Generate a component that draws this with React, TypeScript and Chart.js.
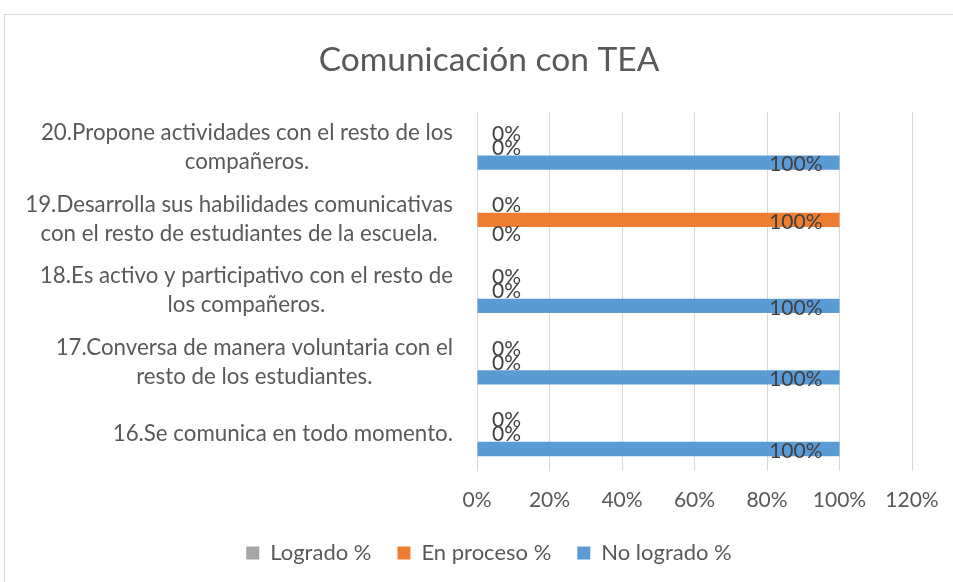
import React, { useEffect, useRef } from "react";
import { Chart, registerables } from "chart.js";

Chart.register(...registerables);

const categories: string[][] = [
  ["20.Propone actividades con el resto de los", "compañeros."],
  ["19.Desarrolla sus habilidades comunicativas", "con el resto de estudiantes de la escuela."],
  ["18.Es activo y participativo con el resto de", "los compañeros."],
  ["17.Conversa de manera voluntaria con el", "resto de los estudiantes."],
  ["16.Se comunica en todo momento."],
];
const seriesNames = ["Logrado %", "En proceso %", "No logrado %"];
const logrado = [0, 0, 0, 0, 0];
const enProceso = [0, 100, 0, 0, 0];
const noLogrado = [100, 0, 100, 100, 100];
const xTickValues = [0, 20, 40, 60, 80, 100, 120];
const title = "Comunicación con TEA";

const FONT = "Lato, 'Open Sans', sans-serif";
const TEXT = "#595959";
const LABEL = "#404040";

const yLabelPlugin = {
  id: "yLabels",
  afterDraw(chart: any) {
    const { ctx, chartArea, scales } = chart;
    const y = scales.y;
    ctx.save();
    ctx.font = `22.3px ${FONT}`;
    ctx.fillStyle = TEXT;
    ctx.textBaseline = "middle";
    ctx.textAlign = "center";
    const right = chartArea.left - 24;
    const lh = 29;
    categories.forEach((lines, i) => {
      const cy = y.getPixelForValue(i) - 1;
      const maxW = Math.max(...lines.map((l) => ctx.measureText(l).width));
      const cx = right - maxW / 2;
      lines.forEach((l, j) => ctx.fillText(l, cx, cy + (j - (lines.length - 1) / 2) * lh));
    });
    ctx.restore();
  },
};

const dataLabelPlugin = {
  id: "dataLabels",
  afterDatasetsDraw(chart: any) {
    const { ctx } = chart;
    ctx.save();
    ctx.font = `21px ${FONT}`;
    ctx.fillStyle = LABEL;
    ctx.textBaseline = "middle";
    chart.data.datasets.forEach((ds: any, d: number) => {
      const meta = chart.getDatasetMeta(d);
      meta.data.forEach((el: any, i: number) => {
        const v = ds.data[i];
        const txt = v + "%";
        if (v > 0) {
          ctx.textAlign = "right";
          ctx.fillText(txt, el.x - 17, el.y + 2);
        } else {
          ctx.textAlign = "left";
          ctx.fillText(txt, el.base + 15, el.y);
        }
      });
    });
    ctx.restore();
  },
};

export default function App() {
  const ref = useRef<HTMLCanvasElement | null>(null);
  useEffect(() => {
    if (!ref.current) return;
    const chart = new Chart(ref.current, {
      type: "bar",
      data: {
        labels: categories,
        datasets: [
          { label: seriesNames[0], data: logrado, backgroundColor: "#A5A5A5" },
          { label: seriesNames[1], data: enProceso, backgroundColor: "#ED7D31" },
          { label: seriesNames[2], data: noLogrado, backgroundColor: "#5B9BD5" },
        ],
      },
      options: {
        indexAxis: "y",
        animation: false,
        responsive: true,
        maintainAspectRatio: false,
        datasets: { bar: { categoryPercentage: 0.6, barPercentage: 1 } },
        layout: { padding: { left: 61, right: 61, top: 0, bottom: 34 } },
        scales: {
          x: {
            min: xTickValues[0],
            max: xTickValues[xTickValues.length - 1],
            ticks: {
              stepSize: xTickValues[1] - xTickValues[0],
              callback: (v: any) => v + "%",
              font: { family: FONT, size: 21 },
              color: TEXT,
              padding: 17.5,
            },
            grid: { color: "#d9d9d9", drawTicks: false, lineWidth: 1 },
            border: { display: false },
            afterFit: (s: any) => {
              s.height = 45.5;
            },
          },
          y: {
            ticks: { display: false },
            grid: { display: false },
            border: { display: false },
            afterFit: (s: any) => {
              s.width = 411;
            },
          },
        },
        plugins: {
          title: {
            display: true,
            text: title,
            font: { family: FONT, size: 33.5, weight: "normal" },
            color: TEXT,
            padding: { top: 25, bottom: 32.3 },
          },
          legend: {
            position: "bottom",
            labels: {
              boxWidth: 13,
              boxHeight: 13,
              padding: 26,
              font: { family: FONT, size: 22 },
              color: TEXT,
            },
          },
          tooltip: { enabled: false },
        },
      },
      plugins: [yLabelPlugin, dataLabelPlugin],
    } as any);
    return () => chart.destroy();
  }, []);
  return (
    <div
      style={{
        position: "fixed",
        left: 4,
        top: 14,
        width: 970,
        height: 595,
        border: "1px solid #d9d9d9",
        boxSizing: "border-box",
        background: "#fff",
      }}
    >
      <div style={{ position: "relative", width: "100%", height: "100%" }}>
        <canvas ref={ref} />
      </div>
    </div>
  );
}
